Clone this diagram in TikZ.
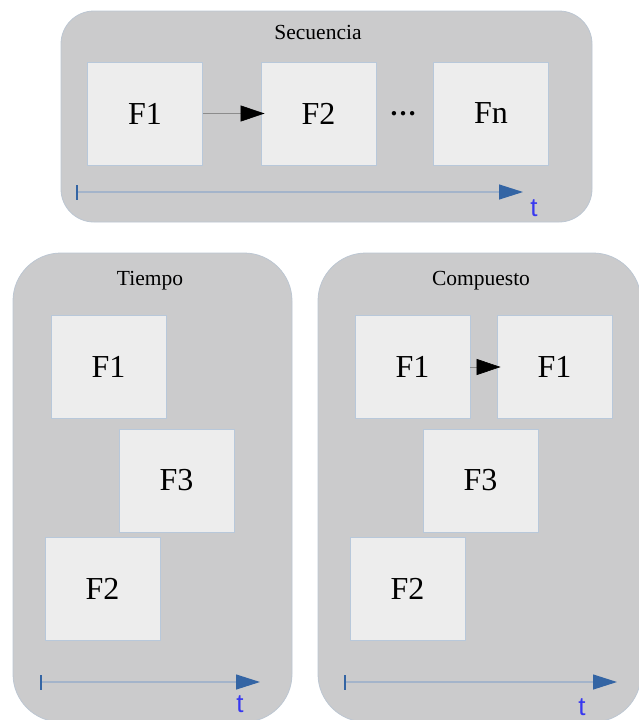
\documentclass[tikz,border=0pt]{standalone}
\usepackage{fontspec}
\setmainfont{Liberation Serif}
\newfontfamily\axisfont{Liberation Sans}
\usetikzlibrary{arrows.meta}

\definecolor{panelfill}{HTML}{CBCBCC}
\definecolor{panelline}{HTML}{BCC6D2}
\definecolor{boxfill}{HTML}{EDEDED}
\definecolor{boxline}{HTML}{B8C8DA}
\definecolor{axisline}{HTML}{A4B4CA}
\definecolor{axisblue}{HTML}{3465A4}
\definecolor{tblue}{HTML}{3838F0}
\definecolor{linkgray}{HTML}{8C8C8C}

\tikzset{
  panel/.style={fill=panelfill, draw=panelline, line width=0.8pt},
  title/.style={anchor=base, font=\fontsize{21.5}{26}\selectfont},
  fbox/.style={draw=boxline, fill=boxfill, line width=0.8pt, inner sep=0pt,
    minimum width=115pt, minimum height=103pt, font=\fontsize{32}{38}\selectfont},
  link/.style={draw=linkgray, line width=0.6pt,
    -{Triangle[length=24pt,width=16pt,color=black]}, shorten >=-4pt},
  axis/.style={draw=axisline, line width=1.2pt,
    -{Triangle[length=24pt,width=15pt,color=axisblue]}},
  axistick/.style={draw=axisblue, line width=2pt},
  tlabel/.style={anchor=base, text=tblue, font=\axisfont\fontsize{26}{30}\selectfont},
  dots/.style={inner sep=0pt, font=\fontsize{27}{32}\selectfont\bfseries}
}

\begin{document}
\begin{tikzpicture}[x=1pt, y=-1pt]
  \useasboundingbox (0,0) rectangle (639,720);

  % ---- Secuencia ----
  \draw[panel, rounded corners=33pt] (61,11) rectangle (592,222);
  \node[title] (sTitle) at (318,39) {Secuencia};
  \node[fbox] (sF1) at (145,113.5) {F1};
  \node[fbox] (sF2) at (318.5,113.5) {F2};
  \node[fbox] (sFn) at (491,113.5) {Fn};
  \node[dots] (sDots) at (403,114) {…};
  \draw[link] (sF1.east) -- (sF2.west);
  \coordinate (sT0) at (77,192);
  \coordinate (sT1) at (523,192);
  \draw[axis] (sT0) -- (sT1);
  \draw[axistick] ([yshift=-7.5pt]sT0) -- ([yshift=7.5pt]sT0);
  \node[tlabel] (sT) at (534,216) {t};

  % ---- Tiempo ----
  \draw[panel, rounded corners=48pt] (13,253) rectangle (292,722);
  \node[title] (tTitle) at (150,285) {Tiempo};
  \node[fbox] (tF1) at (108.5,367) {F1};
  \node[fbox] (tF3) at (176.5,480.5) {F3};
  \node[fbox] (tF2) at (102.5,588.5) {F2};
  \coordinate (tT0) at (41,682);
  \coordinate (tT1) at (260,682);
  \draw[axis] (tT0) -- (tT1);
  \draw[axistick] ([yshift=-7.5pt]tT0) -- ([yshift=7.5pt]tT0);
  \node[tlabel] (tT) at (240,712) {t};

  % ---- Compuesto ----
  \draw[panel, rounded corners=48pt] (318,253) rectangle (641,722);
  \node[title] (cTitle) at (481,285) {Compuesto};
  \node[fbox] (cF1) at (412.5,367) {F1};
  \node[fbox] (cF1b) at (554.5,367) {F1};
  \node[fbox] (cF3) at (480.5,480.5) {F3};
  \node[fbox] (cF2) at (407.5,588.5) {F2};
  \draw[link] (cF1.east) -- (cF1b.west);
  \coordinate (cT0) at (345,682);
  \coordinate (cT1) at (617,682);
  \draw[axis] (cT0) -- (cT1);
  \draw[axistick] ([yshift=-7.5pt]cT0) -- ([yshift=7.5pt]cT0);
  \node[tlabel] (cT) at (582,715) {t};
\end{tikzpicture}
\end{document}
